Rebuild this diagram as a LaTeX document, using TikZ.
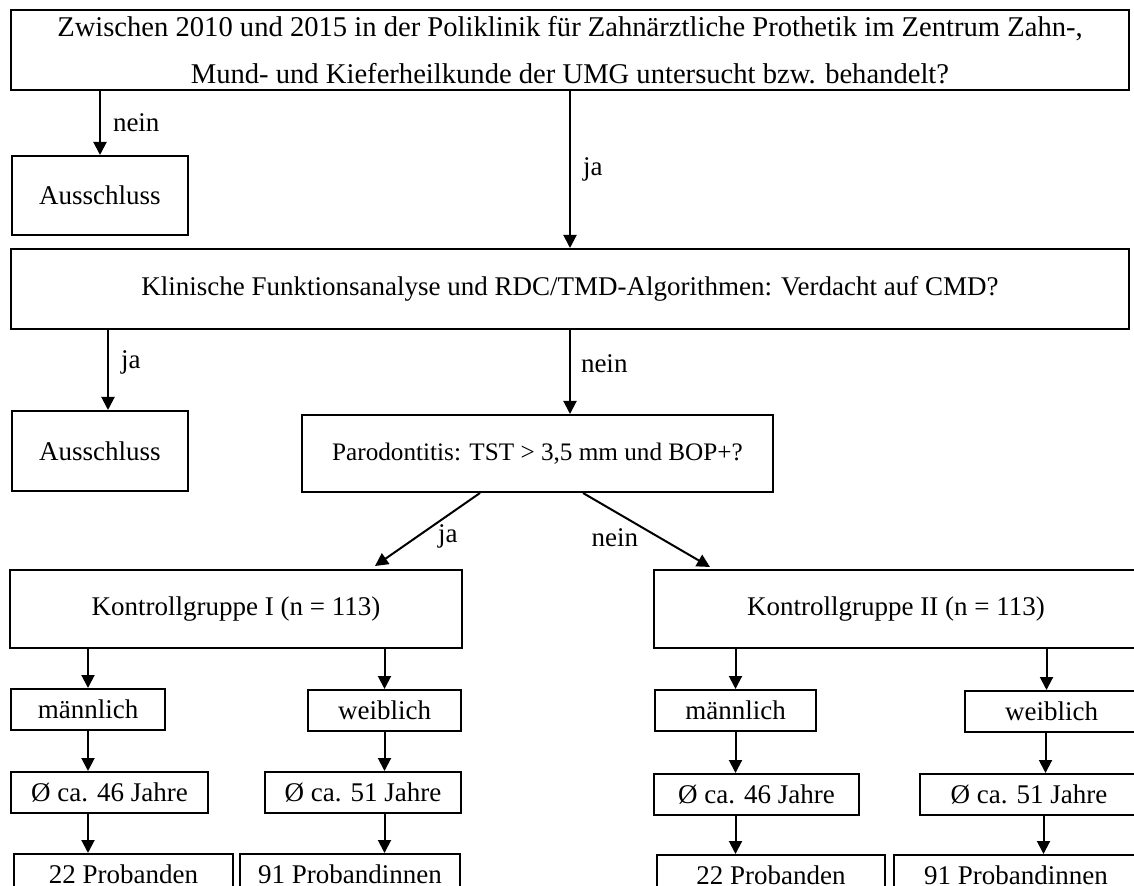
\documentclass[tikz,border=0pt]{standalone}
\usepackage{fontspec}
\setmainfont{Liberation Serif}
\usepackage{tikz}
\usetikzlibrary{positioning, arrows.meta}
\tikzset{
    box/.style={rectangle, draw=black, line width=1pt, align=center, inner sep=2pt},
    frage/.style={box, minimum width=559pt, minimum height=40pt},
    group/.style={box, minimum height=39pt},
    small/.style={box, minimum height=20.5pt},
    result/.style={box, minimum height=20pt},
    arrow/.style={-{Triangle[length=6.5pt, width=6.5pt]}, line width=1pt},
    lbl/.style={inner sep=2pt, font=\fontsize{13.5}{16}\selectfont}
}

\begin{document}
\begin{tikzpicture}[x=1pt, y=1pt, font=\fontsize{13.5}{16}\selectfont]
        \useasboundingbox (0,0) rectangle (567,-443);
        \clip (0,0) rectangle (567,-443);

        % Questions
        \node[frage, font=\fontsize{14.3}{23.5}\selectfont] (Q1) at (285,-25) {Zwischen 2010 und 2015 in der Poliklinik für Zahnärztliche Prothetik im Zentrum Zahn-,\\Mund- und Kieferheilkunde der UMG untersucht bzw. behandelt?};
        \node[box, minimum width=88pt, minimum height=39.5pt, below=32pt of Q1.south west, anchor=north west, xshift=0.5pt] (Ex1) {Ausschluss};

        \node[frage, below=78.5pt of Q1] (Q2) {Klinische Funktionsanalyse und RDC/TMD-Algorithmen: Verdacht auf CMD?};
        \node[box, minimum width=88pt, minimum height=40pt, below=40pt of Q2.south west, anchor=north west, xshift=0.5pt] (Ex2) {Ausschluss};

        \node[box, minimum width=235.5pt, minimum height=38.5pt, below=42pt of Q2.south, xshift=-16.25pt, font=\fontsize{12.6}{15}\selectfont] (Paro) {Parodontitis: TST > 3,5 mm und BOP+?};

        % Groups
        \node[group, minimum width=226pt] (KG1) at (118,-304.5) {Kontrollgruppe I (n = 113)};
        \node[group, minimum width=242pt] (KG2) at (448,-304.5) {Kontrollgruppe II (n = 113)};

        % Group I
        \node[small, minimum width=77pt, below=19.5pt of KG1.south west, anchor=north west, xshift=0.5pt] (M1) {männlich};
        \node[small, minimum width=76.5pt, below=20pt of KG1.south east, anchor=north east, xshift=-0.5pt] (W1) {weiblich};
        \node[small, minimum width=98.5pt, below=20pt of M1.south west, anchor=north west] (AgeM1) {Ø ca. 46 Jahre};
        \node[small, minimum width=98pt, below=19.5pt of W1.south east, anchor=north east] (AgeW1) {Ø ca. 51 Jahre};
        \node[result, minimum width=109.5pt, below=19.5pt of AgeM1.south west, anchor=north west, xshift=1.5pt] (NM1) {22 Probanden};
        \node[result, minimum width=110pt, below=19.5pt of AgeW1.south east, anchor=north east, xshift=-0.5pt] (NW1) {91 Probandinnen};

        % Group II
        \node[small, minimum width=80.5pt, below=20pt of KG2.south west, anchor=north west, xshift=0.5pt] (M2) {männlich};
        \node[small, minimum width=86.5pt, below=20.5pt of KG2.south east, anchor=north east] (W2) {weiblich};
        \node[small, minimum width=102.5pt, below=20.5pt of M2.south west, anchor=north west, xshift=-0.5pt] (AgeM2) {Ø ca. 46 Jahre};
        \node[small, minimum width=109pt, below=20pt of W2.south east, anchor=north east] (AgeW2) {Ø ca. 51 Jahre};
        \node[result, minimum width=114pt, below=19pt of AgeM2.south west, anchor=north west, xshift=1.5pt] (NM2) {22 Probanden};
        \node[result, minimum width=122pt, below=19pt of AgeW2.south east, anchor=north east] (NW2) {91 Probandinnen};

        % Connections
        \draw[arrow] (Q1.south -| Ex1) -- node[lbl, right=4pt] {nein} (Ex1);
        \draw[arrow] (Q1) -- node[lbl, right=4pt] {ja} (Q2);
        \draw[arrow] ([xshift=4pt]Ex2.north |- Q2.south) -- node[lbl, pos=0.4, right=4pt] {ja} ([xshift=4pt]Ex2.north);
        \draw[arrow] (Q2.south) -- node[lbl, pos=0.4, right=3pt] {nein} (Q2.south |- Paro.north);

        \draw[arrow] ([xshift=-28.75pt]Paro.south) -- node[lbl, pos=0.6, right=8pt] {ja} ([xshift=69.5pt, yshift=1.5pt]KG1.north);
        \draw[arrow] ([xshift=22.75pt]Paro.south) -- node[lbl, pos=0.6, left=8pt] {nein} ([xshift=-93pt, yshift=1pt]KG2.north);

        \draw[arrow] (KG1.south -| M1) -- (M1);
        \draw[arrow] (KG1.south -| W1) -- (W1);
        \draw[arrow] (M1) -- (M1 |- AgeM1.north);
        \draw[arrow] (W1) -- (W1 |- AgeW1.north);
        \draw[arrow] (M1 |- AgeM1.south) -- (M1 |- NM1.north);
        \draw[arrow] (W1 |- AgeW1.south) -- (W1 |- NW1.north);

        \draw[arrow] (KG2.south -| M2) -- (M2);
        \draw[arrow] ([xshift=-2.5pt]KG2.south -| W2) -- ([xshift=-2.5pt]W2.north);
        \draw[arrow] (M2) -- (M2 |- AgeM2.north);
        \draw[arrow] ([xshift=-3pt]W2.south) -- ([xshift=-3pt]W2.south |- AgeW2.north);
        \draw[arrow] (M2 |- AgeM2.south) -- (M2 |- NM2.north);
        \draw[arrow] ([xshift=-4pt]W2.south |- AgeW2.south) -- ([xshift=-4pt]W2.south |- NW2.north);

    \end{tikzpicture}
\end{document}
